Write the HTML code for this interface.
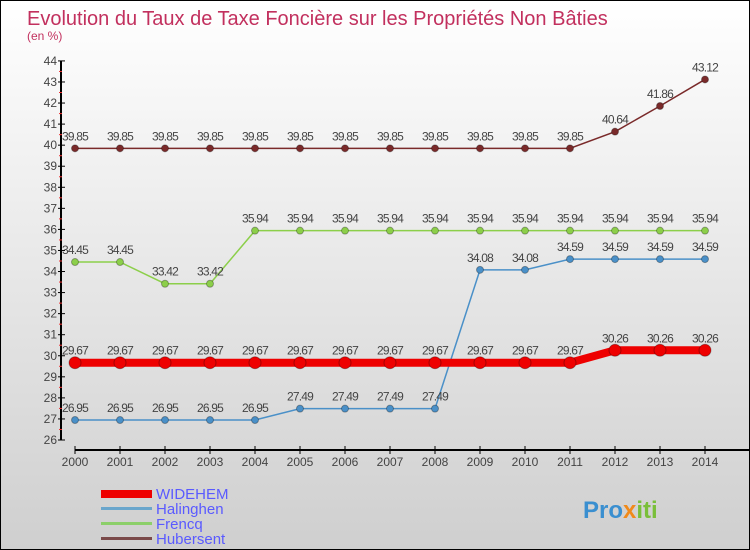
<!DOCTYPE html>
<html><head><meta charset="utf-8"><style>
body{margin:0}
#c{width:750px;height:550px;position:relative;box-sizing:border-box;border:1px solid #000;background:linear-gradient(#ffffff,#cfcfcf);font-family:"Liberation Sans",sans-serif;overflow:hidden}
</style></head><body>
<div id="c">
<svg id="s" width="748" height="548" xmlns="http://www.w3.org/2000/svg">
<text x="26" y="24" font-size="20" fill="#c2305e">Evolution du Taux de Taxe Foncière sur les Propriétés Non Bâties</text>
<text x="26" y="39" font-size="12" fill="#c2305e">(en %)</text>
<g id="axes"></g><g id="series"></g>
<g>
<rect x="100" y="489" width="51" height="8" fill="#e00"/>
<text x="155" y="498" font-size="15" fill="#5a5aff">WIDEHEM</text>
<rect x="100" y="506" width="51" height="3" fill="#6aa6cc"/>
<text x="155" y="513" font-size="15" fill="#5a5aff">Halinghen</text>
<rect x="100" y="521" width="51" height="3" fill="#8ccf6a"/>
<text x="155" y="528" font-size="15" fill="#5a5aff">Frencq</text>
<rect x="100" y="536" width="51" height="3" fill="#7a4a4a"/>
<text x="155" y="543" font-size="15" fill="#5a5aff">Hubersent</text>
</g>
<text x="582" y="517" font-size="24" font-weight="bold" fill="#3a8fd0">Pro<tspan fill="#f08a1a">x</tspan><tspan fill="#7abf3a">iti</tspan></text>
</svg>
</div>
<script>
const years=[2000,2001,2002,2003,2004,2005,2006,2007,2008,2009,2010,2011,2012,2013,2014];
const widehem=[29.67,29.67,29.67,29.67,29.67,29.67,29.67,29.67,29.67,29.67,29.67,29.67,30.26,30.26,30.26];
const halinghen=[26.95,26.95,26.95,26.95,26.95,27.49,27.49,27.49,27.49,34.08,34.08,34.59,34.59,34.59,34.59];
const frencq=[34.45,34.45,33.42,33.42,35.94,35.94,35.94,35.94,35.94,35.94,35.94,35.94,35.94,35.94,35.94];
const hubersent=[39.85,39.85,39.85,39.85,39.85,39.85,39.85,39.85,39.85,39.85,39.85,39.85,40.64,41.86,43.12];
const yTicks=[26,27,28,29,30,31,32,33,34,35,36,37,38,39,40,41,42,43,44];
const NS='http://www.w3.org/2000/svg';
const X=i=>74+45*i, Y=v=>439-(v-26)*21.06;
function mk(t,a,p){const e=document.createElementNS(NS,t);for(const k in a)e.setAttribute(k,a[k]);p.appendChild(e);return e;}
const ax=document.getElementById('axes'), se=document.getElementById('series');
let l=mk('line',{x1:60,y1:Y(44),x2:60,y2:Y(26),stroke:'#000','stroke-width':2},ax);


l=mk('line',{x1:74,y1:449,x2:748,y2:449,stroke:'#000','stroke-width':2},ax);


yTicks.forEach(v=>{
 mk('line',{x1:57,y1:Y(v),x2:64,y2:Y(v),stroke:'#000'},ax);
 if(v<44) mk('line',{x1:58,y1:Y(v+0.5),x2:61,y2:Y(v+0.5),stroke:'#e33'},ax);
 const t=mk('text',{x:56,y:Y(v)+4,'font-size':12,fill:'#444','text-anchor':'end'},ax);t.textContent=v;
 
 
});
years.forEach((yr,i)=>{
 mk('line',{x1:X(i),y1:445,x2:X(i),y2:453,stroke:'#000'},ax);
 const t=mk('text',{x:X(i),y:465,'font-size':12,fill:'#444','text-anchor':'middle'},ax);t.textContent=yr;
 
 
});
function series(d,col,w,r,name){
 const g=mk('g',{},se);
 
 
 mk('polyline',{points:d.map((v,i)=>X(i)+','+Y(v)).join(' '),fill:'none',stroke:col,'stroke-width':w},g);
 d.forEach((v,i)=>{
  const c=mk('circle',{cx:X(i),cy:Y(v),r:r,fill:col,stroke:'rgba(0,0,0,0.3)'},g);
  
  
  const t=mk('text',{x:X(i),y:Y(v)-8,'font-size':12,fill:'#444','text-anchor':'middle','letter-spacing':'-0.8'},g);t.textContent=v;
  
  
 });
}
series(hubersent,'#7a2a2a',1.5,3.5,'hubersent');
series(frencq,'#8ccf4a',1.5,3.5,'frencq');
series(halinghen,'#4a90c8',1.5,3.5,'halinghen');
series(widehem,'#ee0000',8,6,'widehem');
</script>
</body></html>
